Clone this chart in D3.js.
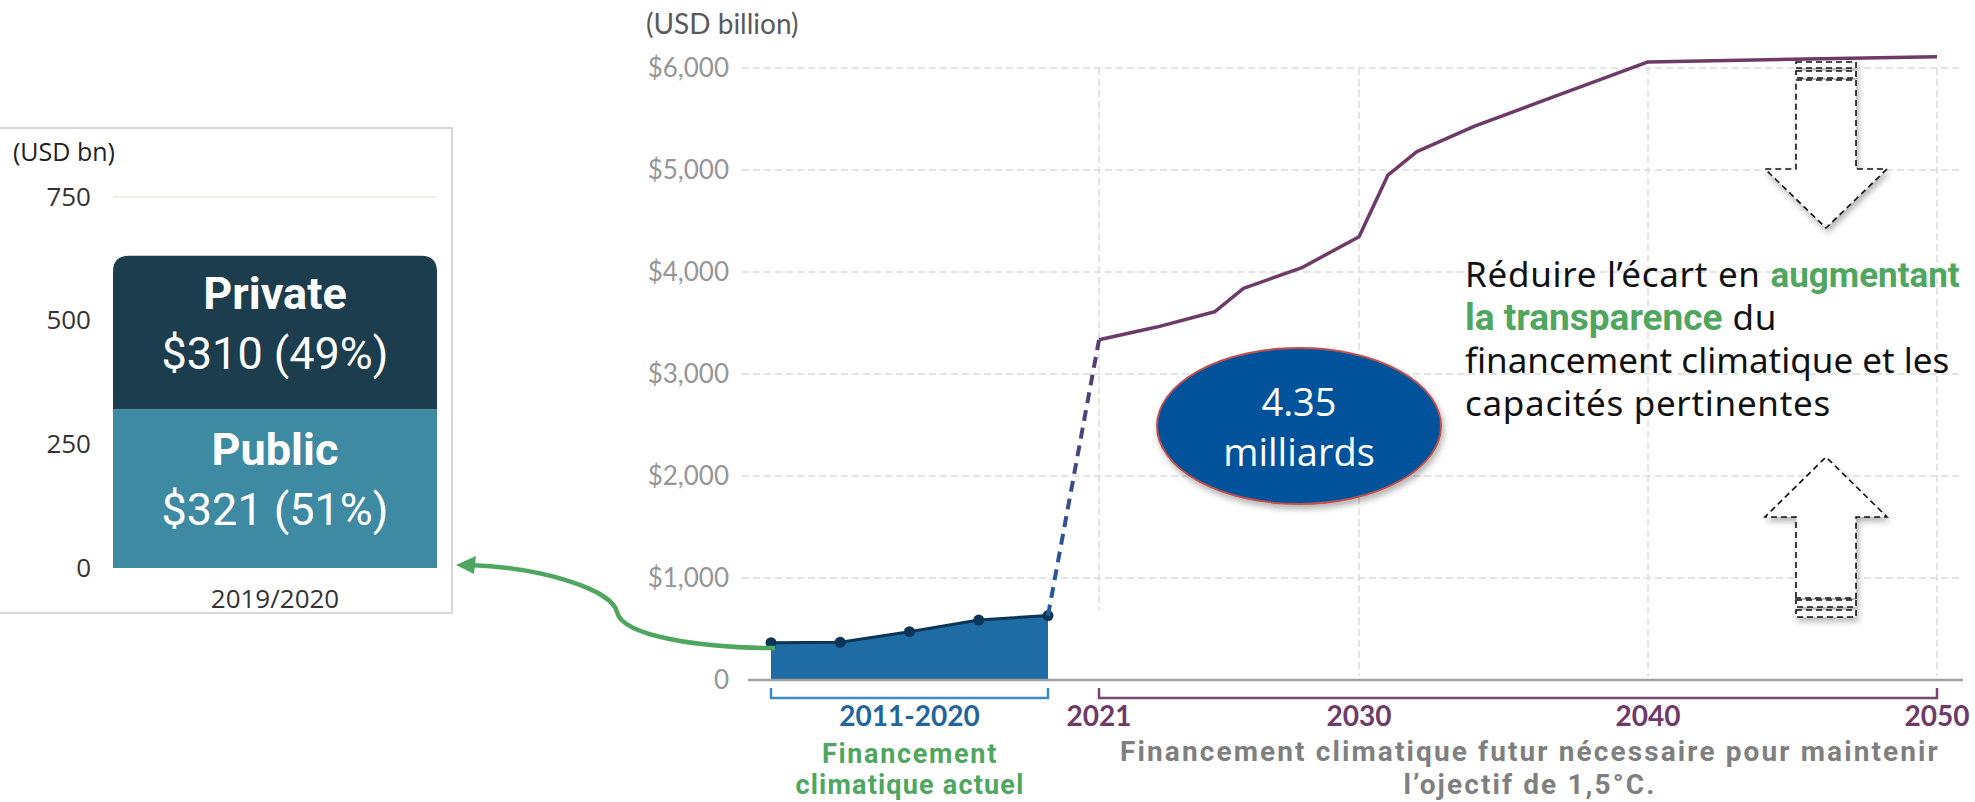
<!DOCTYPE html>
<html>
<head>
<meta charset="utf-8">
<script src="https://cdn.jsdelivr.net/npm/d3@7"></script>
<style>
  body { margin: 0; background: #fff; }
  svg { display: block; }
</style>
</head>
<body>
<script>
// left panel: 2019/2020 split
var barCategory = ["2019/2020"];
var sectors = ["Public", "Private"];
var sectorValues = [321, 310];
var sectorShares = ["51%", "49%"];
var barTicks = [0, 250, 500, 750];

// main chart
var histLabels = ["2011/2012", "2013/2014", "2015/2016", "2017/2018", "2019/2020"];
var histValues = [366, 370, 474, 588, 632];
var futureYears = [2021, 2023, 2025, 2026, 2028, 2030, 2031, 2032, 2034, 2036, 2040, 2050];
var futureValues = [3335, 3460, 3610, 3840, 4040, 4345, 4950, 5180, 5430, 5640, 6060, 6110];
var yTicks = [0, 1000, 2000, 3000, 4000, 5000, 6000];
var xTicks = [2021, 2030, 2040, 2050];

var W = 1975, H = 802;
var svg = d3.select("body").append("svg").attr("width", W).attr("height", H);
svg.append("rect").attr("width", W).attr("height", H).attr("fill", "#fff");

var defs = svg.append("defs");
var shadow = defs.append("filter").attr("id", "shadow")
      .attr("x", "-20%").attr("y", "-20%").attr("width", "140%").attr("height", "150%");
shadow.append("feDropShadow").attr("dx", 2).attr("dy", 4).attr("stdDeviation", 3)
      .attr("flood-color", "#000").attr("flood-opacity", 0.3);

// stretch a line of text to a given width with letter-spacing
function fitWidth(sel, target) {
      var n = sel.text().length;
      var len = sel.node().getComputedTextLength();
      var ls = (target - len) / n;
      sel.attr("letter-spacing", ls.toFixed(2));
      return ls;
}

// ---------- left panel ----------
var yBar = d3.scaleLinear().domain([0, 750]).range([568, 197]);
var xBar = d3.scaleBand().domain(barCategory).range([113, 437]).padding(0);

svg.append("rect")
      .attr("x", -2).attr("y", 128).attr("width", 454).attr("height", 485)
      .attr("fill", "none").attr("stroke", "#d6d6d6").attr("stroke-width", 2);

svg.append("text").text("(USD bn)")
      .attr("x", 13).attr("y", 161)
      .attr("font-family", "Open Sans").attr("font-size", 25).attr("fill", "#222");

svg.append("line")
      .attr("x1", 113).attr("x2", 437)
      .attr("y1", yBar(750)).attr("y2", yBar(750))
      .attr("stroke", "#ebebdc").attr("stroke-width", 1.5);

var barAxis = svg.append("g").attr("transform", "translate(105,0)")
      .call(d3.axisLeft(yBar).tickValues(barTicks).tickSize(0).tickPadding(14));
barAxis.select(".domain").remove();
barAxis.selectAll("text")
      .attr("font-family", "Open Sans").attr("font-size", 26).attr("fill", "#333");

var stack = [];
var acc = 0;
sectors.forEach(function(s, i) {
      stack.push({ name: s, v0: acc, v1: acc + sectorValues[i], value: sectorValues[i], share: sectorShares[i] });
      acc += sectorValues[i];
});
var barColors = { "Public": "#3e8aa3", "Private": "#1c3d4e" };

var bx0 = xBar(barCategory[0]), bx1 = bx0 + xBar.bandwidth();
svg.selectAll("path.seg")
      .data(stack)
      .enter().append("path")
      .attr("class", "seg")
      .attr("fill", function(d) { return barColors[d.name]; })
      .attr("d", function(d, i) {
            var top = yBar(d.v1), bot = yBar(d.v0);
            if (i < stack.length - 1) {
                  return "M" + bx0 + "," + bot + "V" + top + "H" + bx1 + "V" + bot + "Z";
            }
            var r = 16;
            return "M" + bx0 + "," + bot + "V" + (top + r) +
                  "Q" + bx0 + "," + top + " " + (bx0 + r) + "," + top +
                  "H" + (bx1 - r) + "Q" + bx1 + "," + top + " " + bx1 + "," + (top + r) +
                  "V" + bot + "Z";
      });

stack.forEach(function(d) {
      var cx = (bx0 + bx1) / 2;
      var mid = (yBar(d.v0) + yBar(d.v1)) / 2;
      svg.append("text").text(d.name)
            .attr("x", cx).attr("y", mid - 24)
            .attr("text-anchor", "middle")
            .attr("font-family", "Roboto").attr("font-weight", "bold")
            .attr("font-size", 45).attr("fill", "#fff");
      svg.append("text").text("$" + d.value + " (" + d.share + ")")
            .attr("x", cx).attr("y", mid + 36)
            .attr("text-anchor", "middle")
            .attr("font-family", "Roboto")
            .attr("font-size", 45).attr("fill", "#fff");
});

svg.append("text").text(barCategory[0])
      .attr("x", (bx0 + bx1) / 2).attr("y", 608)
      .attr("text-anchor", "middle")
      .attr("font-family", "Open Sans").attr("font-size", 26).attr("fill", "#333");

// ---------- main chart ----------
var y = d3.scaleLinear().domain([0, 6000]).range([680, 68]);
var xFut = d3.scaleLinear().domain([2021, 2050]).range([1099, 1937]);
var xHist = d3.scalePoint().domain(histLabels).range([771, 1048]);

svg.append("text").text("(USD billion)")
      .attr("x", 646).attr("y", 34)
      .attr("font-family", "Lato").attr("font-size", 28).attr("fill", "#5a5a5a");

// horizontal grid
svg.selectAll("line.hgrid")
      .data(yTicks.filter(function(d) { return d > 0; }))
      .enter().append("line")
      .attr("class", "hgrid")
      .attr("x1", 742).attr("x2", 1963)
      .attr("y1", function(d) { return y(d); })
      .attr("y2", function(d) { return y(d); })
      .attr("stroke", "#dcdcdc").attr("stroke-width", 1.5)
      .attr("stroke-dasharray", "7,4");

// vertical grid
svg.selectAll("line.vgrid")
      .data(xTicks)
      .enter().append("line")
      .attr("class", "vgrid")
      .attr("x1", function(d) { return xFut(d); })
      .attr("x2", function(d) { return xFut(d); })
      .attr("y1", y(6000))
      .attr("y2", function(d) { return d === 2021 ? 610 : 676; })
      .attr("stroke", "#dcdcdc").attr("stroke-width", 1.5)
      .attr("stroke-dasharray", "7,4");

var yAxis = svg.append("g").attr("transform", "translate(742,0)")
      .call(d3.axisLeft(y).tickValues(yTicks).tickSize(0).tickPadding(13)
            .tickFormat(function(d) { return d === 0 ? "0" : d3.format("$,")(d); }));
yAxis.select(".domain").remove();
yAxis.selectAll("text")
      .attr("font-family", "Lato").attr("font-size", 26).attr("fill", "#969696");

// historical area
var area = d3.area()
      .x(function(d, i) { return xHist(histLabels[i]); })
      .y0(y(0))
      .y1(function(d) { return y(d); });
svg.append("path")
      .datum(histValues)
      .attr("d", area)
      .attr("fill", "#1f6ca4");

// zero line
svg.append("line")
      .attr("x1", 748).attr("x2", 1963)
      .attr("y1", y(0)).attr("y2", y(0))
      .attr("stroke", "#a0a0a0").attr("stroke-width", 2.5);

var histLine = d3.line()
      .x(function(d, i) { return xHist(histLabels[i]); })
      .y(function(d) { return y(d); });
svg.append("path")
      .datum(histValues)
      .attr("d", histLine)
      .attr("fill", "none").attr("stroke", "#0b3558").attr("stroke-width", 3);

svg.selectAll("circle.hist")
      .data(histValues)
      .enter().append("circle")
      .attr("class", "hist")
      .attr("cx", function(d, i) { return xHist(histLabels[i]); })
      .attr("cy", function(d) { return y(d); })
      .attr("r", 5.5)
      .attr("fill", "#0b3558");

// dashed jump from last actual to first required
var jx1 = xHist(histLabels[histLabels.length - 1]), jy1 = y(histValues[histValues.length - 1]);
var jx2 = xFut(futureYears[0]), jy2 = y(futureValues[0]);
var grad = defs.append("linearGradient").attr("id", "jump")
      .attr("gradientUnits", "userSpaceOnUse")
      .attr("x1", jx1).attr("y1", jy1).attr("x2", jx2).attr("y2", jy2);
grad.append("stop").attr("offset", "0%").attr("stop-color", "#1f5d9e");
grad.append("stop").attr("offset", "100%").attr("stop-color", "#5b3b72");
svg.append("line")
      .attr("x1", jx1).attr("y1", jy1).attr("x2", jx2).attr("y2", jy2)
      .attr("stroke", "url(#jump)").attr("stroke-width", 4)
      .attr("stroke-dasharray", "11,7");

// future requirement line
var futLine = d3.line()
      .x(function(d, i) { return xFut(futureYears[i]); })
      .y(function(d) { return y(d); });
svg.append("path")
      .datum(futureValues)
      .attr("d", futLine)
      .attr("fill", "none").attr("stroke", "#6e3a69").attr("stroke-width", 3.5)
      .attr("stroke-linejoin", "round");

// brackets
function bracket(xa, xb, color) {
      svg.append("path")
            .attr("d", "M" + xa + ",688V698H" + xb + "V688")
            .attr("fill", "none").attr("stroke", color).attr("stroke-width", 2.5);
}
bracket(xHist(histLabels[0]), xHist(histLabels[histLabels.length - 1]), "#3d8bc9");
bracket(xFut(2021), xFut(2050), "#7a4574");

svg.append("text").text("2011-2020")
      .attr("x", (xHist(histLabels[0]) + xHist(histLabels[histLabels.length - 1])) / 2)
      .attr("y", 726).attr("text-anchor", "middle")
      .attr("font-family", "Lato").attr("font-weight", "bold")
      .attr("font-size", 28).attr("fill", "#22649e");

svg.selectAll("text.xlab")
      .data(xTicks)
      .enter().append("text")
      .attr("class", "xlab")
      .text(function(d) { return d; })
      .attr("x", function(d) { return xFut(d); })
      .attr("y", 726).attr("text-anchor", "middle")
      .attr("font-family", "Lato").attr("font-weight", "bold")
      .attr("font-size", 28).attr("fill", "#6e3a69");

var greenLab = svg.append("text")
      .attr("text-anchor", "middle")
      .attr("font-family", "Roboto").attr("font-weight", "bold")
      .attr("font-size", 27).attr("fill", "#4ea65f");
var g1 = greenLab.append("tspan").attr("x", 910).attr("y", 763).text("Financement");
var g2 = greenLab.append("tspan").attr("x", 910).attr("y", 794).text("climatique actuel");
fitWidth(g1, 176);
fitWidth(g2, 229);

var grayLab = svg.append("text")
      .attr("text-anchor", "middle")
      .attr("font-family", "Roboto").attr("font-weight", "bold")
      .attr("font-size", 28).attr("fill", "#7f7f7f");
var t1 = grayLab.append("tspan").attr("x", 1530).attr("y", 761)
      .text("Financement climatique futur nécessaire pour maintenir");
var t2 = grayLab.append("tspan").attr("x", 1530).attr("y", 794)
      .text("l’ojectif de 1,5°C.");
var ls = fitWidth(t1, 820);
t2.attr("letter-spacing", ls.toFixed(2));

// oval callout
svg.append("ellipse")
      .attr("cx", 1299).attr("cy", 426).attr("rx", 142).attr("ry", 78)
      .attr("fill", "#00539b").attr("stroke", "#c0504d").attr("stroke-width", 2)
      .attr("filter", "url(#shadow)");
var ovalText = svg.append("text")
      .attr("text-anchor", "middle")
      .attr("font-family", "Open Sans").attr("font-size", 38).attr("fill", "#fff");
ovalText.append("tspan").attr("x", 1299).attr("y", 416).text("4.35");
ovalText.append("tspan").attr("x", 1299).attr("y", 466).text("milliards");

// right annotation
var note = svg.append("text")
      .attr("font-family", "Noto Sans").attr("font-size", 35).attr("fill", "#111");
function strong(t) {
      t.attr("font-family", "Roboto").attr("font-weight", "bold")
            .attr("fill", "#4ea65f").attr("letter-spacing", 0);
}
var l1 = note.append("tspan").attr("x", 1465).attr("y", 287);
l1.append("tspan").attr("letter-spacing", 0.7).text("Réduire l’écart en ");
strong(l1.append("tspan").text("augmentant"));
var l2 = note.append("tspan").attr("x", 1465).attr("y", 330);
strong(l2.append("tspan").attr("font-size", 37).text("la transparence"));
l2.append("tspan").attr("letter-spacing", 0.7).text(" du");
note.append("tspan").attr("x", 1465).attr("y", 373)
      .text("financement climatique et les");
note.append("tspan").attr("x", 1465).attr("y", 416).attr("letter-spacing", 0.7)
      .text("capacités pertinentes");

// dashed block arrows
function blockArrow(cx, pts, stripes) {
      var g = svg.append("g").attr("filter", "url(#shadow)");
      g.append("path")
            .attr("d", d3.line()(pts) + "Z")
            .attr("fill", "#fff").attr("stroke", "#111").attr("stroke-width", 1.6)
            .attr("stroke-dasharray", "6,4");
      stripes.forEach(function(s) {
            g.append("rect")
                  .attr("x", cx - 30).attr("y", s[0]).attr("width", 60).attr("height", s[1] - s[0])
                  .attr("fill", "#fff").attr("stroke", "#111").attr("stroke-width", 1.6)
                  .attr("stroke-dasharray", "6,4");
      });
}
var ax = 1826;
blockArrow(ax, [[ax - 30, 80], [ax + 30, 80], [ax + 30, 169], [ax + 61, 169], [ax, 228], [ax - 61, 169], [ax - 30, 169]],
      [[62, 68], [71, 78]]);
blockArrow(ax, [[ax - 30, 598], [ax - 30, 517], [ax - 61, 517], [ax, 457], [ax + 61, 517], [ax + 30, 517], [ax + 30, 598]],
      [[600, 607], [610, 617]]);

// green connector to the left panel
svg.append("path")
      .attr("d", "M775,648 C700,648 622,636 617,612 C612,590 545,568 470,565")
      .attr("fill", "none").attr("stroke", "#4ea65f").attr("stroke-width", 4.5);
svg.append("path")
      .attr("d", "M456,565 L476,556 L474,574 Z")
      .attr("fill", "#4ea65f");
</script>
</body>
</html>
